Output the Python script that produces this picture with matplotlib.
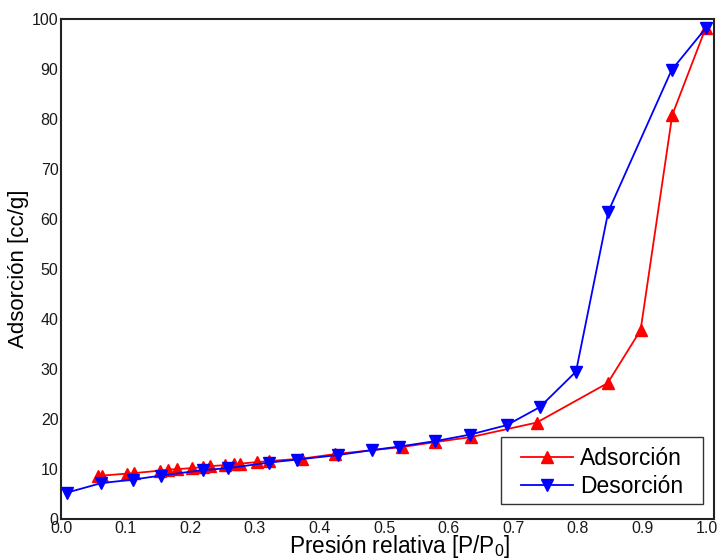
import matplotlib
matplotlib.use('Agg')
import matplotlib.pyplot as plt
from matplotlib.patches import Rectangle

plt.rcParams['font.family'] = ['Liberation Sans', 'DejaVu Sans']
plt.rcParams['mathtext.fontset'] = 'custom'
plt.rcParams['mathtext.rm'] = 'Liberation Sans'
plt.rcParams['mathtext.it'] = 'Liberation Sans'

# adsorption branch of the isotherm
p_ads = [0.057, 0.063, 0.102, 0.113, 0.153, 0.165, 0.179, 0.203, 0.219, 0.231,
         0.254, 0.267, 0.277, 0.303, 0.321, 0.373, 0.424, 0.527, 0.579, 0.634,
         0.736, 0.846, 0.897, 0.946, 0.998]
v_ads = [8.6, 8.7, 9.1, 9.2, 9.7, 9.9, 10.0, 10.2, 10.4, 10.6,
         10.8, 11.0, 11.1, 11.4, 11.6, 12.1, 13.0, 14.4, 15.4, 16.4,
         19.3, 27.2, 37.8, 80.8, 98.3]

# desorption branch
p_des = [0.009, 0.062, 0.111, 0.154, 0.219, 0.259, 0.321, 0.365, 0.428, 0.481,
         0.523, 0.579, 0.633, 0.690, 0.741, 0.797, 0.847, 0.945, 0.998]
v_des = [5.3, 7.2, 7.9, 8.7, 9.8, 10.2, 11.3, 11.9, 12.8, 13.8,
         14.5, 15.6, 16.9, 18.8, 22.4, 29.5, 61.5, 89.8, 98.2]

fig = plt.figure(figsize=(7.2, 5.6), dpi=100)
ax = fig.add_axes([0.085, 0.073, 0.907, 0.893])

ax.plot(p_ads, v_ads, color='#ff0000', marker='^', markersize=9, linewidth=1.3,
        label='Adsorción')
ax.plot(p_des, v_des, color='#0000ff', marker='v', markersize=9, linewidth=1.3,
        label='Desorción')

ax.set_xlim(0, 1.011)
ax.set_ylim(0, 100)
ax.set_xticks([0.0, 0.1, 0.2, 0.3, 0.4, 0.5, 0.6, 0.7, 0.8, 0.9, 1.0])
ax.set_yticks(range(0, 101, 10))
ax.tick_params(length=0, pad=2, labelsize=11.5, colors='#1a1a1a')
ax.tick_params(axis='x', pad=1)
for s in ax.spines.values():
    s.set_linewidth(1.5)
    s.set_color('#222222')

ax.set_xlabel('Presión relativa [P/P$_0$]', fontsize=16.3)
ax.xaxis.set_label_coords(0.518, -0.067, transform=ax.transAxes)
ax.xaxis.label.set_va('baseline')
ax.set_ylabel('Adsorción [cc/g]', fontsize=16, labelpad=2)

# legend box drawn separately so it can be wider than the entries
box = Rectangle((0.673, 0.031), 0.31, 0.134, transform=ax.transAxes,
                facecolor='white', edgecolor='#333333', linewidth=1.0, zorder=4)
ax.add_patch(box)
leg = ax.legend(loc='center', bbox_to_anchor=(0.828, 0.094), fontsize=16.5,
                frameon=False, handlelength=2.3, borderpad=0.0,
                labelspacing=0.22, handletextpad=0.3)
leg.set_zorder(5)

fig.savefig('out.png', dpi=100)
